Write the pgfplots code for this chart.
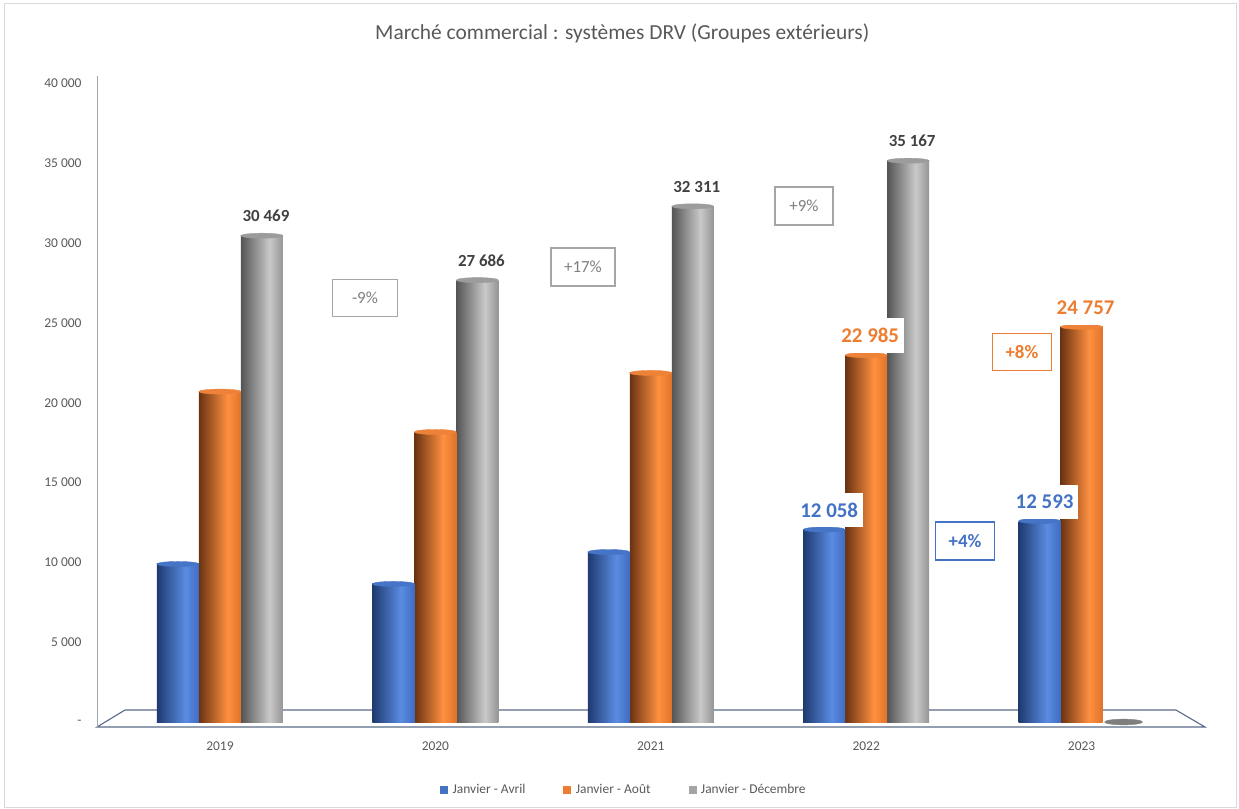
\documentclass[border=0pt]{standalone}
\usepackage{pgfplots}
\pgfplotsset{compat=1.18}
\usepackage{pgfplotstable}
\usepackage{fontspec}
\setmainfont{Carlito}

\definecolor{bD}{HTML}{1E3A70}
\definecolor{bL}{HTML}{5B8CE2}
\definecolor{bM}{HTML}{3E6CC2}
\definecolor{bBase}{HTML}{4472C4}
\definecolor{bCap}{HTML}{4674C6}
\definecolor{oD}{HTML}{6A3312}
\definecolor{oL}{HTML}{FF9040}
\definecolor{oM}{HTML}{E0732A}
\definecolor{oBase}{HTML}{ED7D31}
\definecolor{oCap}{HTML}{EE8238}
\definecolor{gD}{HTML}{555555}
\definecolor{gL}{HTML}{C9C9C9}
\definecolor{gM}{HTML}{959595}
\definecolor{gBase}{HTML}{A5A5A5}
\definecolor{gCap}{HTML}{9C9C9C}
\definecolor{gZero}{HTML}{7F7F7F}
\definecolor{txtgray}{HTML}{595959}
\definecolor{lblgray}{HTML}{404040}
\definecolor{pctgray}{HTML}{7F7F7F}
\definecolor{boxgray}{HTML}{A6A6A6}
\definecolor{floorline}{HTML}{5A6A88}
\definecolor{axisgray}{HTML}{A0A8B4}
\definecolor{framegray}{HTML}{D9D9D9}

\pgfdeclarehorizontalshading{cylblue}{100bp}{color(0bp)=(bD); color(25bp)=(bD); color(59bp)=(bL); color(75bp)=(bM); color(100bp)=(bM)}
\pgfdeclarehorizontalshading{cylorange}{100bp}{color(0bp)=(oD); color(25bp)=(oD); color(59bp)=(oL); color(75bp)=(oM); color(100bp)=(oM)}
\pgfdeclarehorizontalshading{cylgray}{100bp}{color(0bp)=(gD); color(25bp)=(gD); color(59bp)=(gL); color(75bp)=(gM); color(100bp)=(gM)}

\pgfplotstableread{
x blue bl orange ol gray gl
0 9900 {} 20700 {} 30469 {30 469}
1 8650 {} 18170 {} 27686 {27 686}
2 10650 {} 21870 {} 32311 {32 311}
3 12058 {12 058} 22985 {22 985} 35167 {35 167}
4 12593 {12 593} 24757 {24 757} 0 {}
}\data

\begin{document}
\begin{tikzpicture}
\useasboundingbox (0,0) rectangle (1239bp,809bp);
\draw[framegray, line width=1bp] (4bp,1.5bp) rectangle (1236bp,805bp);
\begin{axis}[
  at={(97bp,82bp)}, anchor=south west,
  scale only axis, width=1108bp, height=651bp,
  xmin=-0.571, xmax=4.573, ymin=-313, ymax=40476,
  clip=false,
  axis line style={draw=none},
  tick style={draw=none},
  scaled y ticks=false,
  /pgf/number format/assume math mode=true,
  xtick={0,1,2,3,4}, xticklabels={2019,2020,2021,2022,2023},
  ytick={0,5000,10000,15000,20000,25000,30000,35000,40000},
  yticklabels={-,5 000,10 000,15 000,20 000,25 000,30 000,35 000,40 000},
  ticklabel style={font=\fontsize{13.5}{16}\selectfont, text=txtgray},
  yticklabel style={xshift=-12bp},
  xticklabel style={yshift=-11bp},
  title={Marché commercial : systèmes DRV (Groupes extérieurs)},
  title style={at={(0.474,1.057)}, anchor=center, font=\fontsize{21.5}{26}\selectfont, text=txtgray},
  legend style={at={(0.4756,-0.0968)}, anchor=center, draw=none, fill=none,
    legend columns=3, font=\fontsize{13.5}{16}\selectfont, text=txtgray,
    /tikz/every even column/.append style={column sep=36bp}},
]
% floor and y axis line
\draw[floorline, line width=1.1bp, fill=white] (axis cs:-0.571,-313) -- (axis cs:-0.441,752) -- (axis cs:4.438,752) -- (axis cs:4.573,-313) -- cycle;
\draw[axisgray, line width=1bp] (rel axis cs:0,0) -- (rel axis cs:0,1);

% legend
\addlegendimage{legend image code/.code={\fill[bBase] (0bp,-3.5bp) rectangle (7bp,3.5bp); \path (10bp,0bp);}}
\addlegendentry{Janvier - Avril}
\addlegendimage{legend image code/.code={\fill[oBase] (0bp,-3.5bp) rectangle (7bp,3.5bp); \path (10bp,0bp);}}
\addlegendentry{Janvier - Août}
\addlegendimage{legend image code/.code={\fill[gBase] (0bp,-3.5bp) rectangle (7bp,3.5bp); \path (10bp,0bp);}}
\addlegendentry{Janvier - Décembre}

% gray cylinders (Janvier - Décembre), one path per bar
\pgfplotsinvokeforeach{0,1,2,3}{
  \addplot[forget plot, ybar, bar width=42bp, bar shift=42bp, draw=none, shading=cylgray,
    restrict x to domain=#1:#1] table[x=x, y=gray]{\data};
}
\addplot[forget plot, only marks, color=gCap, mark=*, mark size=21bp, xshift=42bp,
  mark options={fill=gCap, yscale=0.12}, restrict x to domain=0:3]
  table[x=x, y=gray]{\data};
\addplot[forget plot, only marks, color=gZero, mark=*, mark size=19bp, xshift=42bp,
  mark options={fill=gZero, yscale=0.15}, restrict x to domain=4:4]
  table[x=x, y=gray]{\data};
\addplot[forget plot, ybar, bar width=42bp, bar shift=42bp, draw=none, fill=none,
  restrict x to domain=0:3,
  nodes near coords, point meta=explicit symbolic,
  every node near coord/.append style={font=\bfseries\fontsize{17}{19}\selectfont, text=lblgray, anchor=base, yshift=14bp, xshift=46bp}]
  table[x=x, y=gray, meta=gl]{\data};

% orange cylinders (Janvier - Août)
\pgfplotsinvokeforeach{0,1,2,3,4}{
  \addplot[forget plot, ybar, bar width=42bp, bar shift=0bp, draw=none, shading=cylorange,
    restrict x to domain=#1:#1] table[x=x, y=orange]{\data};
}
\addplot[forget plot, only marks, color=oCap, mark=*, mark size=21bp,
  mark options={fill=oCap, yscale=0.12}]
  table[x=x, y=orange]{\data};
\addplot[forget plot, ybar, bar width=42bp, bar shift=0bp, draw=none, fill=none,
  restrict x to domain=3:4,
  nodes near coords, point meta=explicit symbolic,
  every node near coord/.append style={font=\bfseries\fontsize{21}{24}\selectfont, text=oBase, anchor=south, fill=white, inner xsep=4.5bp, inner ysep=10bp, yshift=2bp, xshift=4bp}]
  table[x=x, y=orange, meta=ol]{\data};

% blue cylinders (Janvier - Avril)
\pgfplotsinvokeforeach{0,1,2,3,4}{
  \addplot[forget plot, ybar, bar width=42bp, bar shift=-42bp, draw=none, shading=cylblue,
    restrict x to domain=#1:#1] table[x=x, y=blue]{\data};
}
\addplot[forget plot, only marks, color=bCap, mark=*, mark size=21bp, xshift=-42bp,
  mark options={fill=bCap, yscale=0.12}]
  table[x=x, y=blue]{\data};
\addplot[forget plot, ybar, bar width=42bp, bar shift=-42bp, draw=none, fill=none,
  restrict x to domain=3:4,
  nodes near coords, point meta=explicit symbolic,
  every node near coord/.append style={font=\bfseries\fontsize{21}{24}\selectfont, text=bBase, anchor=south, fill=white, inner xsep=4.5bp, inner ysep=10bp, yshift=2bp, xshift=-37bp}]
  table[x=x, y=blue, meta=bl]{\data};

% percentage boxes
\node[draw=boxgray, line width=1.4bp, fill=white, minimum width=65bp, minimum height=37bp, text=pctgray, font=\fontsize{17}{19}\selectfont] at (axis cs:0.673,26566) {-9\%};
\node[draw=boxgray, line width=1.4bp, fill=white, minimum width=64bp, minimum height=38bp, text=pctgray, font=\fontsize{17}{19}\selectfont] at (axis cs:1.685,28509) {+17\%};
\node[draw=boxgray, line width=1.4bp, fill=white, minimum width=58bp, minimum height=38bp, text=pctgray, font=\fontsize{17}{19}\selectfont] at (axis cs:2.711,32331) {+9\%};
\node[draw=oBase, line width=1.4bp, fill=white, minimum width=59bp, minimum height=37bp, text=oBase, font=\bfseries\fontsize{19}{21}\selectfont] at (axis cs:3.723,23183) {+8\%};
\node[draw=bBase, line width=1.4bp, fill=white, minimum width=59bp, minimum height=38bp, text=bBase, font=\bfseries\fontsize{19}{21}\selectfont] at (axis cs:3.459,11341) {+4\%};
\end{axis}
\end{tikzpicture}
\end{document}
